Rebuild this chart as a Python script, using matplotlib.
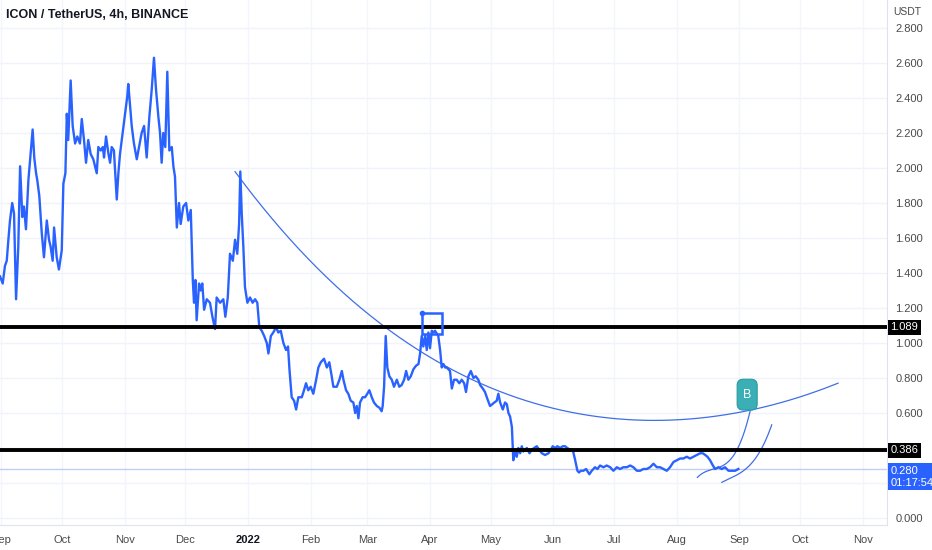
import numpy as np
import pandas as pd
import matplotlib
matplotlib.use("Agg")
import matplotlib.pyplot as plt
import matplotlib.dates as mdates
from matplotlib.patches import Rectangle, FancyBboxPatch
from matplotlib.ticker import FuncFormatter, FixedLocator

plt.rcParams['font.family'] = ['Liberation Sans', 'DejaVu Sans']

# ICON/USDT 4h closes (days since 2021-09-01)
start = pd.Timestamp('2021-09-01')
days = [-0.6, 0.7, 1.8, 2.7, 3.5, 4.3, 5.4, 6.3, 7.3, 8.4, 9.3, 10.4, 11.2, 12.2, 13.4, 14.5,
        15.5, 16.3, 17.2, 17.8, 18.8, 20.0, 21.1, 22.5, 23.6, 24.4, 25.4, 26.1, 27.4, 28.5,
        29.9, 30.7, 31.7, 32.4, 33.1, 34.3, 35.3, 36.5, 37.6, 38.9, 39.8, 40.9, 41.9, 43.0,
        44.2, 45.5, 47.2, 48.0, 49.2, 50.2, 50.8, 51.8, 53.0, 53.8, 54.6, 55.7, 57.1, 57.9,
        58.7, 60.0, 61.2, 62.3, 62.8, 63.7, 64.5, 65.6, 67.0, 68.1, 69.4, 70.6, 71.9, 73.2,
        74.4, 75.5, 76.5, 77.7, 78.5, 79.3, 80.1, 81.1, 82.1, 83.1, 84.3, 85.1, 85.9, 86.8,
        87.9, 88.7, 90.0, 91.4, 92.5, 93.7, 94.7, 95.3, 96.0, 96.6, 97.8, 98.6, 99.4, 100.3,
        101.6, 103.2, 104.4, 105.7, 106.5, 108.2, 109.8, 110.8, 112.0, 113.1, 114.5, 115.6,
        116.7, 117.6, 118.2, 118.9, 119.7, 120.5, 121.7, 123.0, 124.3, 125.5, 126.6, 127.6,
        128.8, 130.0, 131.3, 132.1, 133.3, 134.5, 135.9, 137.0, 138.2, 139.5, 140.8, 141.8,
        142.5, 143.6, 144.8, 145.8, 146.9, 148.6, 149.7, 150.7, 151.8, 153.0, 154.3, 155.7,
        156.8, 158.0, 159.6, 161.0, 162.2, 163.4, 164.2, 165.9, 167.2, 168.4, 169.2, 170.5,
        171.6, 172.8, 174.1, 175.0, 175.8, 176.6, 177.4, 178.7, 179.9, 181.0, 182.0, 183.2,
        184.3, 185.7, 187.0, 188.1, 188.6, 189.3, 190.1, 190.9, 191.9, 193.1, 194.2, 195.6,
        196.8, 198.0, 199.2, 200.2, 201.3, 202.5, 203.8, 205.1, 206.3, 207.1, 207.9, 208.7,
        209.6, 210.4, 211.2, 212.0, 212.9, 213.7, 214.5, 216.1, 217.0, 217.8, 218.6, 219.5,
        220.3, 221.1, 221.9, 222.8, 223.9, 225.2, 226.5, 227.7, 228.9, 229.8, 231.0, 232.2,
        233.5, 234.6, 235.9, 236.8, 238.1, 239.2, 240.4, 241.7, 242.8, 243.8, 245.0, 245.8,
        246.7, 248.0, 249.1, 250.0, 250.8, 251.6, 252.5, 253.0, 253.2, 254.1, 254.9, 255.7,
        256.6, 257.4, 258.2, 259.9, 261.2, 262.3, 263.5, 264.8, 266.1, 267.3, 268.9, 270.6,
        271.7, 272.7, 273.9, 275.0, 276.3, 277.7, 278.8, 279.9, 281.3, 282.6, 283.8, 284.9,
        285.7, 286.6, 287.9, 289.2, 290.8, 292.0, 293.6, 294.8, 296.1, 297.8, 299.4, 301.1,
        302.7, 304.4, 306.0, 307.6, 309.3, 311.0, 312.6, 314.3, 315.9, 317.5, 319.2, 320.8,
        322.5, 324.2, 325.8, 327.4, 329.1, 330.7, 332.4, 334.0, 335.7, 337.3, 339.0, 340.6,
        342.3, 344.0, 345.6, 346.9, 348.1, 349.2, 350.5, 351.9, 353.0, 354.6, 356.3, 357.9,
        359.6, 361.3, 362.9, 364.5]
price = [1.38, 1.34, 1.44, 1.47, 1.59, 1.70, 1.80, 1.74, 1.25, 1.55, 2.01, 1.72, 1.78, 1.65, 1.93, 2.08,
         2.22, 2.06, 1.97, 1.93, 1.84, 1.63, 1.49, 1.70, 1.59, 1.55, 1.47, 1.66, 1.49, 1.42,
         1.53, 1.91, 1.97, 2.31, 2.16, 2.50, 2.24, 2.14, 2.18, 2.14, 2.28, 2.16, 2.03, 2.16,
         2.08, 2.05, 1.97, 2.12, 2.10, 2.12, 2.06, 2.18, 2.08, 2.03, 2.12, 2.10, 1.82, 1.97,
         2.08, 2.20, 2.31, 2.41, 2.48, 2.35, 2.24, 2.14, 2.05, 2.12, 2.20, 2.24, 2.06, 2.29,
         2.45, 2.63, 2.45, 2.29, 2.20, 2.03, 2.20, 2.12, 2.55, 2.10, 2.12, 2.01, 1.95, 1.66,
         1.80, 1.68, 1.78, 1.80, 1.70, 1.76, 1.36, 1.23, 1.36, 1.13, 1.34, 1.30, 1.34, 1.19,
         1.25, 1.23, 1.15, 1.08, 1.26, 1.23, 1.25, 1.15, 1.26, 1.51, 1.47, 1.59,
         1.51, 1.68, 1.98, 1.74, 1.55, 1.32, 1.23, 1.26, 1.23, 1.25, 1.23, 1.09,
         1.07, 1.04, 1.00, 0.94, 1.04, 1.06, 1.09, 1.06, 1.07, 1.00, 0.96, 0.98,
         0.85, 0.69, 0.67, 0.62, 0.69, 0.69, 0.73, 0.77, 0.73, 0.75, 0.71, 0.79,
         0.86, 0.89, 0.91, 0.86, 0.89, 0.81, 0.75, 0.75, 0.79, 0.84, 0.79, 0.73,
         0.71, 0.67, 0.66, 0.60, 0.64, 0.57, 0.66, 0.69, 0.69, 0.71, 0.73, 0.69,
         0.66, 0.64, 0.63, 0.61, 0.64, 0.75, 1.04, 0.86, 0.81, 0.79, 0.75, 0.79,
         0.75, 0.76, 0.79, 0.84, 0.79, 0.81, 0.85, 0.87, 0.88, 0.94, 1.04, 0.98,
         1.04, 0.96, 1.06, 0.97, 1.07, 1.06, 1.07, 1.04, 0.96, 0.86, 0.88, 0.86,
         0.86, 0.85, 0.84, 0.74, 0.79, 0.79, 0.77, 0.79, 0.77, 0.72, 0.81, 0.84,
         0.80, 0.81, 0.79, 0.76, 0.74, 0.72, 0.68, 0.64, 0.65, 0.66, 0.67, 0.71,
         0.66, 0.62, 0.66, 0.65, 0.60, 0.58, 0.52, 0.39, 0.33, 0.38, 0.35, 0.40,
         0.37, 0.41, 0.38, 0.40, 0.37, 0.39, 0.40, 0.41, 0.39, 0.37, 0.36, 0.37,
         0.39, 0.41, 0.40, 0.41, 0.40, 0.41, 0.41, 0.40, 0.39, 0.39, 0.33, 0.27,
         0.26, 0.27, 0.27, 0.28, 0.25, 0.27, 0.29, 0.28, 0.30, 0.29, 0.30, 0.29,
         0.27, 0.29, 0.28, 0.29, 0.29, 0.30, 0.29, 0.27, 0.27, 0.28, 0.28, 0.29,
         0.31, 0.29, 0.29, 0.28, 0.27, 0.29, 0.32, 0.33, 0.34, 0.34, 0.35, 0.34,
         0.35, 0.36, 0.37, 0.37, 0.36, 0.35, 0.33, 0.30, 0.28, 0.29, 0.28, 0.29,
         0.27, 0.27, 0.27, 0.28]

# drawings on the chart
levels = [1.089, 0.386]
last_price = 0.280
last_time = '01:17:54'
big_arc_days = [115.6, 141.2, 161.0, 188.8, 207.1, 236.8, 246.7, 261.5, 286.2, 320.8, 371.1, 390.1, 413.8]
big_arc_vals = [1.98, 1.61, 1.38, 1.09, 0.96, 0.77, 0.72, 0.67, 0.59, 0.556, 0.621, 0.674, 0.77]
arc1_days = [344.2, 352.1, 358.8, 363.7, 367.8, 370.3]
arc1_vals = [0.233, 0.274, 0.322, 0.389, 0.493, 0.617]
arc2_days = [356.3, 365.4, 372.0, 376.1, 378.9, 381.0]
arc2_vals = [0.204, 0.255, 0.331, 0.398, 0.465, 0.535]
box_days = [207.9, 217.8]
box_vals = [1.05, 1.17]
label_days = [363.9, 373.8]
label_vals = [0.617, 0.793]

blue = '#2962ff'
t = start + pd.to_timedelta(days, unit='D')

fig = plt.figure(figsize=(9.32, 5.5), dpi=100)
ax = fig.add_axes([0, 25 / 550, 887 / 932, 525 / 550])

# grid
for v in np.arange(0, 3.0, 0.2):
    ax.axhline(v, color='#f0f3fa', lw=1, zorder=0)
months = pd.date_range('2021-09-01', '2022-11-01', freq='MS')
for m in months:
    ax.axvline(m, color='#f3f5fa', lw=1, zorder=0)

ax.plot(t, price, color=blue, lw=1.7, zorder=3)

for lv in levels:
    ax.axhline(lv, color='black', lw=2.8, zorder=4)
ax.axhline(last_price, color='#c3cdf7', lw=1, zorder=1)

# arcs
def draw_arc(dd, vv, deg):
    c = np.polyfit(dd, vv, deg)
    xs = np.linspace(dd[0], dd[-1], 200)
    ax.plot(start + pd.to_timedelta(xs, unit='D'), np.polyval(c, xs), color='#3f6ee8', lw=0.9, zorder=2)

draw_arc(big_arc_days, big_arc_vals, 4)
draw_arc(arc1_days, arc1_vals, 3)
draw_arc(arc2_days, arc2_vals, 3)

# hand drawn box at the April top
b0 = mdates.date2num(start + pd.Timedelta(days=box_days[0]))
b1 = mdates.date2num(start + pd.Timedelta(days=box_days[1]))
ax.add_patch(Rectangle((b0, box_vals[0]), b1 - b0, box_vals[1] - box_vals[0],
                       fill=False, ec=blue, lw=1.8, zorder=4))
ax.plot([b0], [box_vals[1]], 'o', color=blue, ms=3, zorder=4)

# "B" callout
l0 = mdates.date2num(start + pd.Timedelta(days=label_days[0]))
l1 = mdates.date2num(start + pd.Timedelta(days=label_days[1]))
ax.add_patch(FancyBboxPatch((l0, label_vals[0]), l1 - l0, label_vals[1] - label_vals[0],
                            boxstyle='round,pad=0,rounding_size=3', mutation_aspect=0.0116,
                            fc='#3aafb5', ec='#2c9aa0', lw=0.8, zorder=6))
ax.text((l0 + l1) / 2, sum(label_vals) / 2, 'B', color='white', fontsize=9,
        ha='center', va='center', zorder=7)

ax.set_xlim(start + pd.Timedelta(days=-0.64), start + pd.Timedelta(days=438.0))
ax.set_ylim(-0.04, 2.96)

# axes styling
for s in ['top', 'left']:
    ax.spines[s].set_visible(False)
ax.spines['right'].set_color('#e0e3eb')
ax.spines['bottom'].set_color('#e0e3eb')

ax.yaxis.tick_right()
ax.yaxis.set_major_locator(FixedLocator(np.round(np.arange(0, 2.81, 0.2), 1)))
ax.yaxis.set_major_formatter(FuncFormatter(lambda v, p: '' if round(v, 1) in (0.2, 0.4) else f'{v:.3f}'))
ax.tick_params(axis='y', length=0, pad=6, labelsize=8, labelcolor='#4a4a4a')

ax.xaxis.set_major_locator(FixedLocator(mdates.date2num(months)))
ax.set_xticklabels([str(m.year) if m.month == 1 else m.strftime('%b') for m in months])
ax.tick_params(axis='x', length=0, pad=7, labelsize=8, labelcolor='#4a4a4a')
for lbl in ax.get_xticklabels():
    if lbl.get_text() == '2022':
        lbl.set_fontweight('bold')
        lbl.set_color('#131722')

# price tags on the right scale
tr = ax.get_yaxis_transform()
for lv in levels:
    ax.text(1.004, lv, f'{lv:.3f}', transform=tr, color='white', fontsize=8, ha='left', va='center',
            clip_on=False, zorder=7,
            bbox=dict(boxstyle='square,pad=0.2', fc='black', ec='none'))
ax.text(1.004, last_price + 0.02, f'{last_price:.3f}\n{last_time}', transform=tr, color='white',
        fontsize=8, ha='left', va='top', linespacing=1.3, clip_on=False, zorder=7,
        bbox=dict(boxstyle='square,pad=0.2', fc=blue, ec='none'))

fig.text(893 / 932, 1 - 12 / 550, 'USDT', fontsize=7.5, color='#4a4a4a', ha='left', va='center',
         bbox=dict(fc='white', ec='none', pad=1))
fig.text(6 / 932, 1 - 15 / 550, 'ICON / TetherUS, 4h, BINANCE', fontsize=9, fontweight='bold',
         color='#131722', ha='left', va='center')

fig.savefig('out.png', dpi=100)
